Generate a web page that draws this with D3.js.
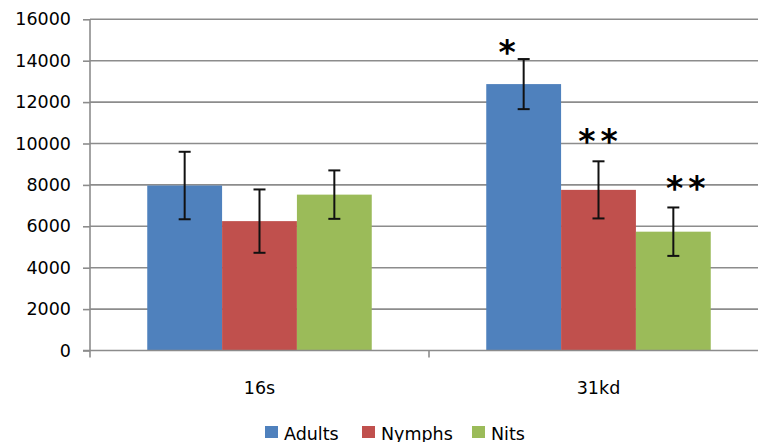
<!DOCTYPE html>
<html>
<head>
<meta charset="utf-8">
<script src="https://cdn.jsdelivr.net/npm/d3@7"></script>
<style>
  body { margin: 0; background: #fff; }
  svg { display: block; font-family: "DejaVu Sans", Verdana, sans-serif; }
</style>
</head>
<body>
<div id="vis"></div>
<script>
const width = 758;
const height = 442;
const margin = { top: 19.3, right: -10, bottom: 91.5, left: 90 };

// Data
const categories = ["16s", "31kd"];
const series = ["Adults", "Nymphs", "Nits"];
const colors = ["#4F81BD", "#C0504D", "#9BBB59"];
const means = {
  "16s":  [7970, 6250, 7530],
  "31kd": [12870, 7760, 5740]
};
const errors = {
  "16s":  [1630, 1530, 1170],
  "31kd": [1210, 1380, 1170]
};
const yTicks = [0, 2000, 4000, 6000, 8000, 10000, 12000, 14000, 16000];
// significance marks: category, series, label
const marks = [
  { cat: "31kd", s: "Adults", label: "*" },
  { cat: "31kd", s: "Nymphs", label: "**" },
  { cat: "31kd", s: "Nits", label: "**" }
];
const markOffsets = { Adults: [-14, 13], Nymphs: [2, 26], Nits: [15, 25] };

const svg = d3.select("#vis").append("svg")
  .attr("width", width)
  .attr("height", height);

const x0 = d3.scaleBand().domain(categories).range([margin.left, width - margin.right]);
const x1 = d3.scaleBand().domain(series).range([0, x0.bandwidth()]).paddingOuter(0.765);
const y = d3.scaleLinear().domain([0, 16000]).range([height - margin.bottom, margin.top]);
const color = d3.scaleOrdinal().domain(series).range(colors);

// Gridlines
svg.append("g")
  .selectAll("line")
  .data(yTicks.filter(d => d > 0))
  .join("line")
  .attr("x1", margin.left)
  .attr("x2", width - margin.right)
  .attr("y1", d => y(d))
  .attr("y2", d => y(d))
  .attr("stroke", "#8c8c8c")
  .attr("stroke-width", 1.6);

// Bars
const rows = categories.flatMap(c => series.map((s, i) => ({
  cat: c, s: s, v: means[c][i], e: errors[c][i]
})));

svg.append("g")
  .selectAll("rect")
  .data(rows)
  .join("rect")
  .attr("x", d => x0(d.cat) + x1(d.s))
  .attr("y", d => y(d.v))
  .attr("width", x1.bandwidth())
  .attr("height", d => y(0) - y(d.v))
  .attr("fill", d => color(d.s));

// Error bars
const eb = svg.append("g")
  .attr("stroke", "#111")
  .attr("stroke-width", 2);
rows.forEach(d => {
  const cx = x0(d.cat) + x1(d.s) + x1.bandwidth() / 2;
  const top = y(d.v + d.e), bot = y(d.v - d.e);
  eb.append("line").attr("x1", cx).attr("x2", cx).attr("y1", top).attr("y2", bot);
  eb.append("line").attr("x1", cx - 6).attr("x2", cx + 6).attr("y1", top).attr("y2", top);
  eb.append("line").attr("x1", cx - 6).attr("x2", cx + 6).attr("y1", bot).attr("y2", bot);
});

// Y axis
const yAxis = svg.append("g")
  .attr("transform", `translate(${margin.left},0)`)
  .call(d3.axisLeft(y).tickValues(yTicks).tickSize(7).tickPadding(12).tickFormat(d3.format("d")));
yAxis.select(".domain").attr("stroke", "#8c8c8c").attr("stroke-width", 1.6).attr("d", `M0,${y(0)}V${y(16000)}`);
yAxis.selectAll(".tick line").attr("stroke", "#8c8c8c").attr("stroke-width", 1.6);
yAxis.selectAll(".tick text").attr("fill", "#000").attr("font-size", "17.5px").attr("font-family", "DejaVu Sans");

// X axis
const xAxis = svg.append("g").attr("transform", `translate(0,${y(0)})`);
xAxis.append("line")
  .attr("x1", margin.left - 7).attr("x2", width)
  .attr("stroke", "#8c8c8c").attr("stroke-width", 1.6);
xAxis.selectAll(".xtick")
  .data(categories.map(c => x0(c)).concat([x0.range()[1]]))
  .join("line")
  .attr("x1", d => d).attr("x2", d => d)
  .attr("y1", 0).attr("y2", 7)
  .attr("stroke", "#8c8c8c").attr("stroke-width", 1.6);
xAxis.selectAll("text")
  .data(categories)
  .join("text")
  .attr("x", d => x0(d) + x0.bandwidth() / 2)
  .attr("y", 43)
  .attr("text-anchor", "middle")
  .attr("font-size", "17.5px")
  .text(d => d);

// Significance marks
svg.append("g")
  .selectAll("text")
  .data(marks)
  .join("text")
  .attr("x", d => x0(d.cat) + x1(d.s) + x1.bandwidth() / 2 + markOffsets[d.s][0])
  .attr("y", d => {
    const i = series.indexOf(d.s);
    return y(means[d.cat][i] + errors[d.cat][i]) - markOffsets[d.s][1] + 18;
  })
  .attr("text-anchor", "middle")
  .attr("font-size", "33px")
  .attr("font-weight", "bold")
  .attr("letter-spacing", "5px")
  .text(d => d.label);

// Legend
const legend = svg.append("g").attr("transform", "translate(265,426)");
const lx = [0, 97, 207];
const item = legend.selectAll("g")
  .data(series)
  .join("g")
  .attr("transform", (d, i) => `translate(${lx[i]},0)`);
item.append("rect")
  .attr("width", 13).attr("height", 12)
  .attr("fill", d => color(d));
item.append("text")
  .attr("x", 19).attr("y", 13.5)
  .attr("font-size", "17.5px")
  .text(d => d);
</script>
</body>
</html>
